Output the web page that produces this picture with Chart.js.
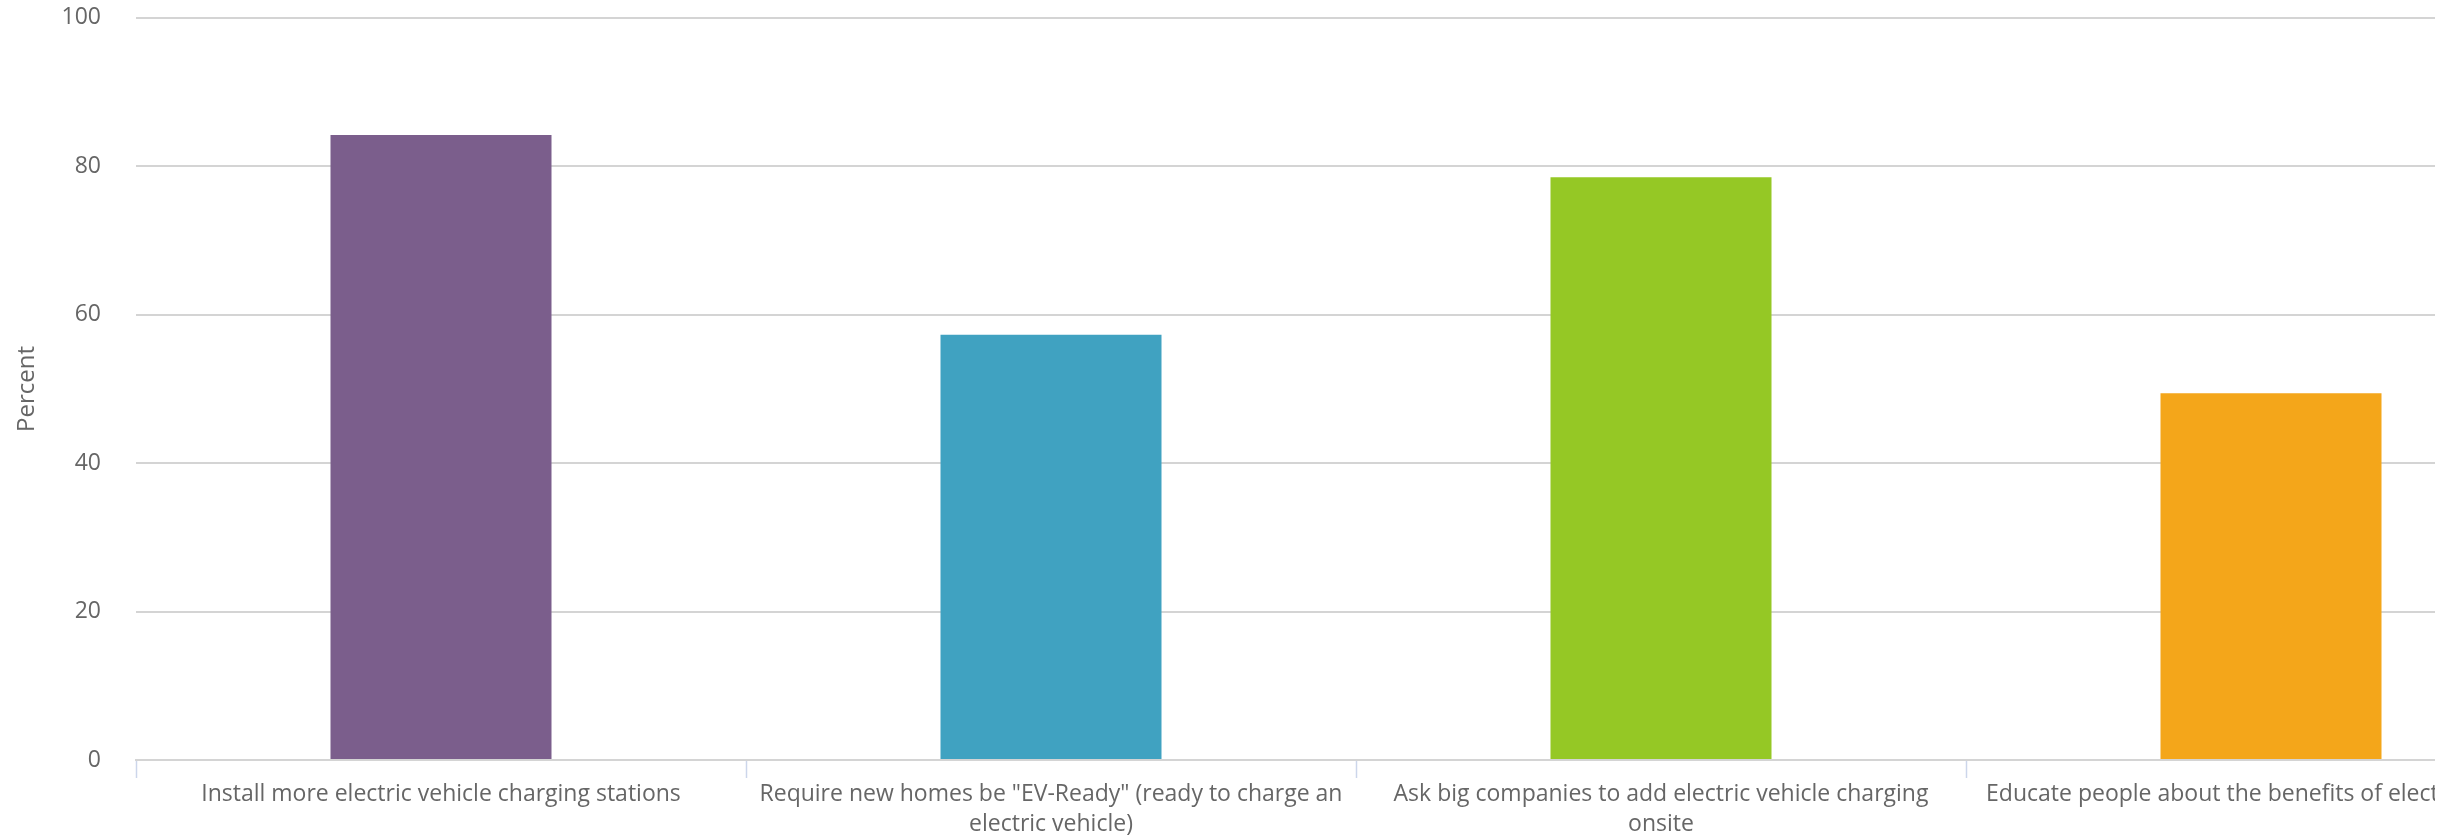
<!DOCTYPE html>
<html>
<head>
<meta charset="utf-8">
<script src="https://cdn.jsdelivr.net/npm/chart.js@4/dist/chart.umd.min.js"></script>
<style>
  html, body { margin: 0; padding: 0; background: #ffffff; }
  #frame { width: 2435px; height: 836px; overflow: hidden; position: relative; }
  #chart { display: block; position: absolute; left: 0; top: -31px; }
</style>
</head>
<body>
<div id="frame"><canvas id="chart" width="2590" height="867" style="width:2590px;height:867px"></canvas></div>
<script>
// Survey responses: support for each electric-vehicle policy (percent)
const categories = [
  ["Install more electric vehicle charging stations"],
  ["Require new homes be \"EV-Ready\" (ready to charge an", "electric vehicle)"],
  ["Ask big companies to add electric vehicle charging", "onsite"],
  ["Educate people about the benefits of electric vehicles"]
];
const percentValues = [84.2, 57.3, 78.5, 49.4];
const barColors = ["#7b5e8c", "#40a2c1", "#95c825", "#f4a61a"];
const yTicks = [0, 20, 40, 60, 80, 100];

const fontFamily = "'Open Sans', 'Noto Sans', sans-serif";
const textColor = "#666666";
const gridColor = "#d4d4d4";

new Chart(document.getElementById("chart"), {
  type: "bar",
  data: {
    labels: categories,
    datasets: [{
      label: "Percent",
      data: percentValues,
      backgroundColor: barColors,
      borderWidth: 0,
      categoryPercentage: 1.0,
      barPercentage: 0.3623
    }]
  },
  options: {
    responsive: false,
    animation: false,
    layout: { padding: { top: 0, right: 14, bottom: 0, left: 0 } },
    plugins: {
      legend: { display: false },
      tooltip: { enabled: false }
    },
    scales: {
      x: {
        offset: true,
        grid: {
          offset: true,
          drawOnChartArea: false,
          drawTicks: true,
          tickLength: 18,
          tickColor: "#ccd6eb",
          tickWidth: 1.5
        },
        border: { display: true, color: gridColor, width: 2 },
        ticks: {
          autoSkip: false,
          maxRotation: 0,
          minRotation: 0,
          padding: 1,
          color: textColor,
          font: { family: fontFamily, size: 23, lineHeight: 1.33 }
        },
        afterFit: (scale) => { scale.height = 76; }
      },
      y: {
        min: 0,
        max: 100,
        afterBuildTicks: (scale) => { scale.ticks = yTicks.map(v => ({ value: v })); },
        grid: {
          color: gridColor,
          lineWidth: 2,
          drawTicks: false
        },
        border: { display: false },
        ticks: {
          padding: 35,
          color: textColor,
          font: { family: fontFamily, size: 23 }
        },
        title: {
          display: true,
          text: "Percent",
          color: textColor,
          padding: { top: 13, bottom: 0 },
          font: { family: fontFamily, size: 24 }
        },
        afterFit: (scale) => { scale.width = 136; }
      }
    }
  }
});
</script>
</body>
</html>
